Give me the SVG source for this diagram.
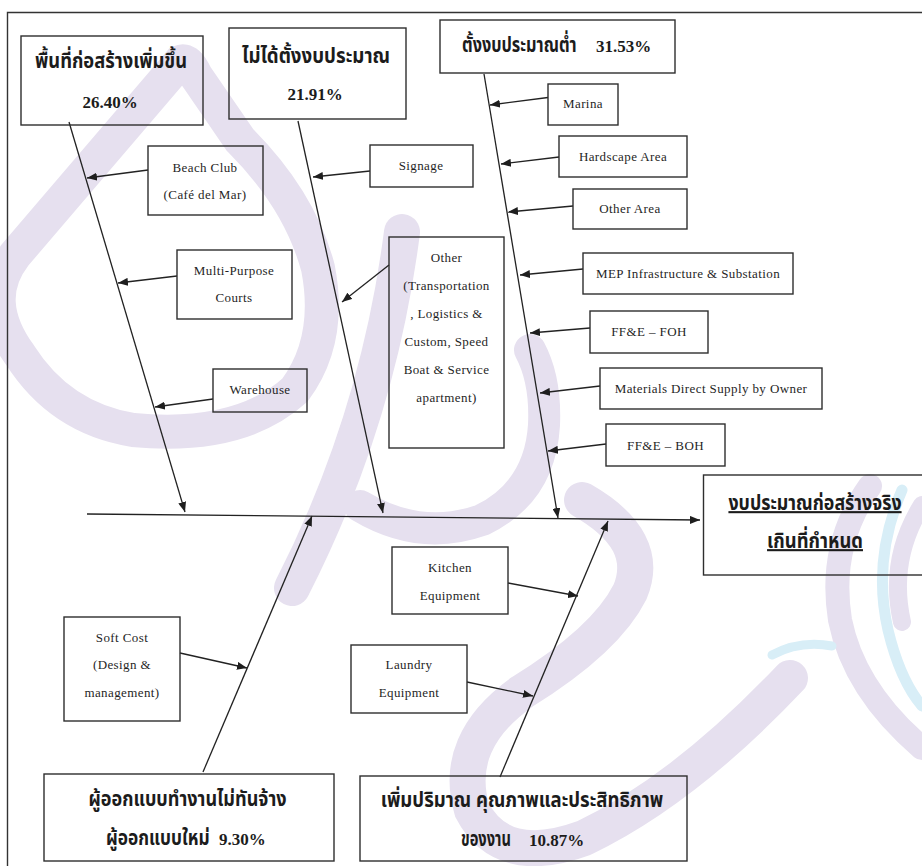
<svg xmlns="http://www.w3.org/2000/svg" width="922" height="866" viewBox="0 0 922 866">
  <defs>
    <marker id="arrow" markerWidth="10" markerHeight="8" refX="10" refY="4" orient="auto" markerUnits="userSpaceOnUse">
      <path d="M0,0 L10,4 L0,8 Z" fill="#1e1e1e"/>
    </marker>
    <style>
      .box { fill: none; stroke: #2e2e2e; stroke-width: 1.4; }
      .line { fill: none; stroke: #222; stroke-width: 1.3; marker-end: url(#arrow); }
      .en { font-family: "Liberation Serif", "Times New Roman", serif; font-size: 13px; letter-spacing: 0.4px; fill: #1f1f1f; text-anchor: middle; }
      .th { font-family: "Noto Sans Thai", "Noto Serif Thai", "Loma", "Garuda", "Norasi", "DejaVu Sans", sans-serif; font-size: 21px; font-weight: bold; fill: #1c1c1c; }
      .pc { font-family: "Liberation Serif", "Times New Roman", serif; font-size: 17px; font-weight: bold; fill: #1c1c1c; }
      .mid { text-anchor: middle; }
      .wm { fill: none; stroke: #e6e0ef; stroke-linecap: round; }
      .wb { fill: none; stroke: #d8eef7; stroke-linecap: round; }
    </style>
  </defs>

  <rect width="922" height="866" fill="#ffffff"/>

  <!-- background logo ribbons -->
  <g id="watermark">
    <path class="wm" stroke-width="34" d="M180,62 L15,255 Q-20,300 20,355 Q60,418 133,430 Q240,440 295,390 Q332,340 318,268 Q300,200 240,140 L196,76 Q188,58 180,62 Z"/>
    <path class="wm" stroke-width="36" d="M402,232 Q378,420 292,588"/>
    <path class="wm" stroke-width="32" d="M360,506 Q420,542 482,520 Q540,492 544,425 Q546,380 530,350"/>
    <path class="wm" stroke-width="36" d="M582,500 Q652,540 630,592 Q606,640 522,692 Q452,742 472,810 Q502,868 584,838 Q684,790 790,678"/>
    <path class="wm" stroke-width="24" d="M870,486 Q828,545 840,620 Q854,690 922,748"/>
    <path class="wm" stroke-width="18" d="M922,505 Q888,560 902,622"/>
    <path class="wb" stroke-width="11" d="M902,490 Q872,560 888,630 Q900,680 922,706"/>
    <path class="wb" stroke-width="9" d="M772,655 Q800,640 832,646"/>
  </g>

  <!-- outer frame -->
  <path d="M7.5,866 L7.5,12.5 L922,12.5" fill="none" stroke="#333" stroke-width="1.4"/>

  <!-- connectors -->
  <g id="connectors">
    <line class="line" x1="87" y1="514" x2="700" y2="520"/>
    <line class="line" x1="69" y1="122" x2="185" y2="512"/>
    <line class="line" x1="298" y1="121" x2="383" y2="513"/>
    <line class="line" x1="484" y1="74" x2="558" y2="518"/>
    <line class="line" x1="203" y1="772" x2="312" y2="516"/>
    <line class="line" x1="500" y1="777" x2="608" y2="521"/>

    <line class="line" x1="148" y1="170" x2="87" y2="178"/>
    <line class="line" x1="177" y1="276" x2="118" y2="283"/>
    <line class="line" x1="213" y1="399" x2="155" y2="407"/>
    <line class="line" x1="370" y1="171" x2="313" y2="177"/>
    <line class="line" x1="389" y1="265" x2="342" y2="302"/>
    <line class="line" x1="548" y1="97.5" x2="490" y2="105"/>
    <line class="line" x1="559" y1="157" x2="501" y2="164"/>
    <line class="line" x1="573" y1="206" x2="508" y2="212"/>
    <line class="line" x1="583" y1="269" x2="520" y2="275"/>
    <line class="line" x1="590" y1="328" x2="530" y2="333"/>
    <line class="line" x1="600" y1="386" x2="540" y2="393"/>
    <line class="line" x1="606" y1="444" x2="548" y2="451"/>
    <line class="line" x1="180" y1="653" x2="247" y2="668"/>
    <line class="line" x1="508" y1="583" x2="578" y2="596"/>
    <line class="line" x1="467" y1="682" x2="533" y2="696"/>
  </g>

  <!-- main causes (Thai lines are drawn narrowed horizontally) -->
  <g id="cause-area">
    <rect class="box" x="21" y="36" width="182" height="89"/>
    <g transform="translate(111,68) scale(0.78,1)"><text class="th mid" x="0" y="0" textLength="195" lengthAdjust="spacingAndGlyphs">พื้นที่ก่อสร้างเพิ่มขึ้น</text></g>
    <text class="pc mid" x="110" y="108">26.40%</text>
  </g>
  <g id="cause-unbudgeted">
    <rect class="box" x="229" y="28" width="177" height="91"/>
    <g transform="translate(316,63) scale(0.78,1)"><text class="th mid" x="0" y="0" textLength="190" lengthAdjust="spacingAndGlyphs">ไม่ได้ตั้งงบประมาณ</text></g>
    <text class="pc mid" x="315" y="100">21.91%</text>
  </g>
  <g id="cause-lowbudget">
    <rect class="box" x="440" y="20" width="235" height="53"/>
    <g transform="translate(462,52) scale(0.78,1)"><text class="th" x="0" y="0" textLength="147" lengthAdjust="spacingAndGlyphs">ตั้งงบประมาณต่ำ</text></g>
    <text class="pc" x="596" y="52">31.53%</text>
  </g>
  <g id="cause-designer">
    <rect class="box" x="44" y="774" width="290" height="87"/>
    <g transform="translate(187.5,806) scale(0.78,1)"><text class="th mid" x="0" y="0" textLength="254" lengthAdjust="spacingAndGlyphs">ผู้ออกแบบทำงานไม่ทันจ้าง</text></g>
    <g transform="translate(106,845) scale(0.78,1)"><text class="th" x="0" y="0" textLength="133" lengthAdjust="spacingAndGlyphs">ผู้ออกแบบใหม่</text></g>
    <text class="pc" x="219" y="845">9.30%</text>
  </g>
  <g id="cause-quality">
    <rect class="box" x="360" y="776" width="327" height="85"/>
    <g transform="translate(522,807) scale(0.78,1)"><text class="th mid" x="0" y="0" textLength="362" lengthAdjust="spacingAndGlyphs">เพิ่มปริมาณ คุณภาพและประสิทธิภาพ</text></g>
    <g transform="translate(461,846) scale(0.78,1)"><text class="th" x="0" y="0" textLength="64" lengthAdjust="spacingAndGlyphs">ของงาน</text></g>
    <text class="pc" x="529" y="846">10.87%</text>
  </g>

  <!-- effect -->
  <g id="effect">
    <rect class="box" x="703.5" y="475" width="300" height="100"/>
    <g transform="translate(815,510) scale(0.78,1)"><text class="th mid" x="0" y="0" textLength="222" lengthAdjust="spacingAndGlyphs" text-decoration="underline">งบประมาณก่อสร้างจริง</text></g>
    <g transform="translate(815,548) scale(0.78,1)"><text class="th mid" x="0" y="0" textLength="123" lengthAdjust="spacingAndGlyphs" text-decoration="underline">เกินที่กำหนด</text></g>
  </g>

  <!-- sub causes -->
  <g id="beach-club">
    <rect class="box" x="148" y="146" width="115" height="69"/>
    <text class="en" x="205" y="172">Beach Club</text>
    <text class="en" x="205" y="199">(Café del Mar)</text>
  </g>
  <g id="multi-purpose">
    <rect class="box" x="177" y="250" width="115" height="69"/>
    <text class="en" x="234" y="275">Multi-Purpose</text>
    <text class="en" x="234" y="302">Courts</text>
  </g>
  <g id="warehouse">
    <rect class="box" x="213" y="369" width="94" height="43"/>
    <text class="en" x="260" y="394">Warehouse</text>
  </g>
  <g id="signage">
    <rect class="box" x="370" y="145" width="103" height="42"/>
    <text class="en" x="421" y="170">Signage</text>
  </g>
  <g id="other">
    <rect class="box" x="389" y="237" width="115" height="211"/>
    <text class="en" x="446.5" y="262">Other</text>
    <text class="en" x="446.5" y="290">(Transportation</text>
    <text class="en" x="446.5" y="318">, Logistics &amp;</text>
    <text class="en" x="446.5" y="346">Custom, Speed</text>
    <text class="en" x="446.5" y="374">Boat &amp; Service</text>
    <text class="en" x="446.5" y="402">apartment)</text>
  </g>
  <g id="marina">
    <rect class="box" x="548" y="84" width="70" height="41"/>
    <text class="en" x="583" y="108">Marina</text>
  </g>
  <g id="hardscape">
    <rect class="box" x="559" y="136" width="128" height="41"/>
    <text class="en" x="623" y="161">Hardscape Area</text>
  </g>
  <g id="other-area">
    <rect class="box" x="573" y="189" width="114" height="40"/>
    <text class="en" x="630" y="213">Other Area</text>
  </g>
  <g id="mep">
    <rect class="box" x="583" y="253" width="210" height="41"/>
    <text class="en" x="688" y="278">MEP Infrastructure &amp; Substation</text>
  </g>
  <g id="ffe-foh">
    <rect class="box" x="590" y="311" width="118" height="42"/>
    <text class="en" x="649" y="336">FF&amp;E – FOH</text>
  </g>
  <g id="materials">
    <rect class="box" x="600" y="368" width="222" height="41"/>
    <text class="en" x="711" y="393">Materials Direct Supply by Owner</text>
  </g>
  <g id="ffe-boh">
    <rect class="box" x="606" y="424" width="119" height="42"/>
    <text class="en" x="665.5" y="450">FF&amp;E – BOH</text>
  </g>
  <g id="soft-cost">
    <rect class="box" x="64" y="617" width="116" height="104"/>
    <text class="en" x="122" y="642">Soft Cost</text>
    <text class="en" x="122" y="669">(Design &amp;</text>
    <text class="en" x="122" y="697">management)</text>
  </g>
  <g id="kitchen">
    <rect class="box" x="392" y="547" width="116" height="67"/>
    <text class="en" x="450" y="572">Kitchen</text>
    <text class="en" x="450" y="600">Equipment</text>
  </g>
  <g id="laundry">
    <rect class="box" x="351" y="645" width="116" height="68"/>
    <text class="en" x="409" y="669">Laundry</text>
    <text class="en" x="409" y="697">Equipment</text>
  </g>
</svg>
